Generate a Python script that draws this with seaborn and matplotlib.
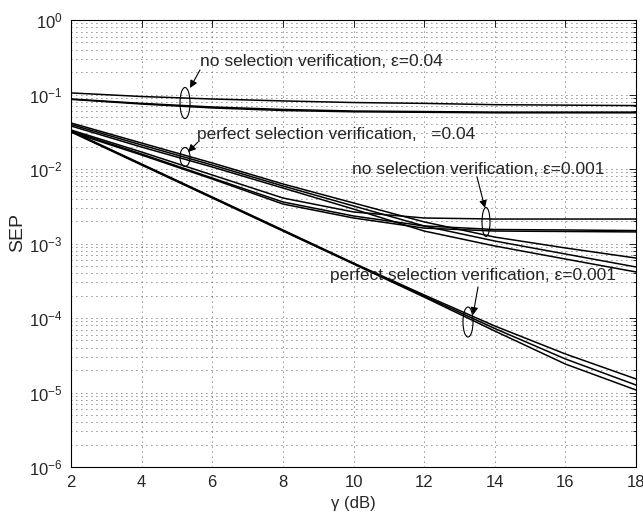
import matplotlib
matplotlib.use("Agg")
import matplotlib.pyplot as plt
import pandas as pd
import seaborn as sns
from matplotlib.patches import Ellipse
from matplotlib.ticker import LogLocator, NullFormatter, FixedLocator

# SNR axis (dB)
gamma_db = [2, 4, 6, 8, 10, 12, 14, 16, 18]

# no selection verification, eps = 0.04
nosel_004_a = [0.105, 0.094, 0.087, 0.082, 0.078, 0.076, 0.073, 0.072, 0.071]
nosel_004_b = [0.087, 0.076, 0.068, 0.063, 0.060, 0.059, 0.058, 0.058, 0.058]
nosel_004_c = [0.086, 0.0745, 0.066, 0.061, 0.0586, 0.0577, 0.0568, 0.0568, 0.0568]

# perfect selection verification, eps = 0.04
perf_004_a = [0.0415, 0.0223, 0.01205, 0.00630, 0.00350, 0.00195, 0.00122, 0.000871, 0.000638]
perf_004_b = [0.0396, 0.0210, 0.01131, 0.00592, 0.00319, 0.00172, 0.00108, 0.000723, 0.000484]
perf_004_c = [0.0378, 0.0197, 0.01064, 0.00556, 0.00290, 0.00147, 0.000926, 0.000619, 0.000415]

# no selection verification, eps = 0.001
nosel_0001_a = [0.0334, 0.0169, 0.00831, 0.00408, 0.00265, 0.00220, 0.00213, 0.00213, 0.00213]
nosel_0001_b = [0.0324, 0.0159, 0.00757, 0.00361, 0.00234, 0.00172, 0.00154, 0.00152, 0.00149]
nosel_0001_c = [0.0314, 0.0154, 0.00734, 0.00339, 0.00220, 0.00161, 0.00147, 0.00145, 0.00143]

# perfect selection verification, eps = 0.001
perf_0001_a = [0.0324, 0.01167, 0.00421, 0.00152, 0.000547, 0.000204, 7.81e-5, 3.29e-5, 1.52e-5]
perf_0001_b = [0.0319, 0.01149, 0.00415, 0.00149, 0.000539, 0.000197, 7.23e-5, 2.82e-5, 1.26e-5]
perf_0001_c = [0.0314, 0.01131, 0.00408, 0.00147, 0.000531, 0.000191, 6.69e-5, 2.41e-5, 1.08e-5]

curves = {
    "nosel_004_a": nosel_004_a, "nosel_004_b": nosel_004_b, "nosel_004_c": nosel_004_c,
    "perf_004_a": perf_004_a, "perf_004_b": perf_004_b, "perf_004_c": perf_004_c,
    "nosel_0001_a": nosel_0001_a, "nosel_0001_b": nosel_0001_b, "nosel_0001_c": nosel_0001_c,
    "perf_0001_a": perf_0001_a, "perf_0001_b": perf_0001_b, "perf_0001_c": perf_0001_c,
}
df = pd.concat(
    [pd.DataFrame({"gamma": gamma_db, "SEP": v, "curve": k}) for k, v in curves.items()],
    ignore_index=True,
)

sns.set_style("white")
plt.rcParams["font.family"] = ["Liberation Sans", "DejaVu Sans"]
plt.rcParams["mathtext.fontset"] = "custom"
plt.rcParams["mathtext.rm"] = "Liberation Sans"
plt.rcParams["mathtext.it"] = "Liberation Sans:italic"

W, H = 643, 516
fig = plt.figure(figsize=(W / 100, H / 100), dpi=100)
ax = fig.add_axes([71 / W, 1 - 467 / H, 565 / W, 447 / H])

sns.lineplot(data=df, x="gamma", y="SEP", units="curve", estimator=None,
             color="black", linewidth=1.1, ax=ax, legend=False)

ax.set_yscale("log")
ax.set_xlim(2, 18)
ax.set_ylim(1e-6, 1)
ax.xaxis.set_major_locator(FixedLocator(gamma_db))
ax.yaxis.set_major_locator(LogLocator(base=10, numticks=10))
ax.yaxis.set_minor_locator(LogLocator(base=10, subs=range(2, 10), numticks=100))
ax.yaxis.set_minor_formatter(NullFormatter())

grid_kw = dict(color="#222222", linewidth=0.6, linestyle=(0, (1, 5)))
ax.grid(True, which="major", axis="both", **grid_kw)
ax.grid(True, which="minor", axis="y", **grid_kw)

for s in ax.spines.values():
    s.set_color("black")
    s.set_linewidth(0.8)
ax.tick_params(which="both", direction="in", top=True, right=True, color="black", width=0.6)
ax.tick_params(which="major", length=5, labelsize=12, pad=6)
ax.tick_params(which="minor", length=2.5)

ax.set_xlabel("γ (dB)", fontsize=12, labelpad=4)
ax.set_ylabel("SEP", fontsize=14, va="center")
ax.yaxis.set_label_coords(-0.0947, 0.5235)


def fpt(x, y):
    """Figure-fraction coordinates from pixel position (origin top-left)."""
    return x / W, 1 - y / H


label_fs = 12.5
notes = [
    ("no selection verification, ε=0.04", (200, 66), (200, 70), (190, 88), (185, 103), 10, 31),
    ("perfect selection verification,   =0.04", (197, 139), (198, 142), (188, 152), (185, 157), 10, 19),
    ("no selection verification, ε=0.001", (352, 174), (477, 177), (485, 208), (486, 222), 8, 29),
    ("perfect selection verification, ε=0.001", (330, 280), (478, 287), (473, 315), (468, 322), 10, 30),
]
for text, tpos, tail, head, ctr, ew, eh in notes:
    fig.text(*fpt(*tpos), text, fontsize=label_fs, va="baseline", ha="left")
    ax.annotate("", xy=fpt(*head), xycoords="figure fraction",
                xytext=fpt(*tail), textcoords="figure fraction",
                arrowprops=dict(arrowstyle="-|>", color="black", lw=0.8,
                                mutation_scale=11, shrinkA=0, shrinkB=0))
    fig.add_artist(Ellipse(fpt(*ctr), ew / W, eh / H, transform=fig.transFigure,
                           fill=False, edgecolor="black", linewidth=0.8))

fig.savefig("out.png", dpi=100)
